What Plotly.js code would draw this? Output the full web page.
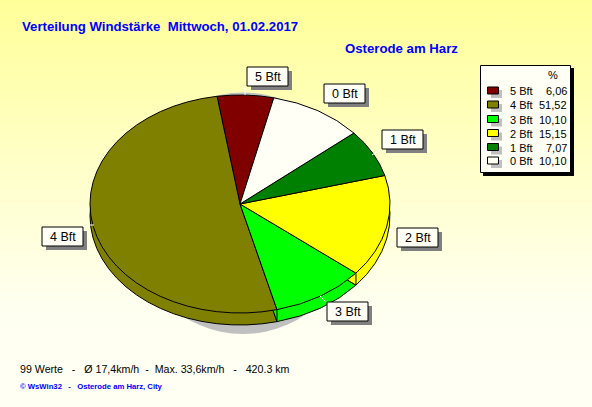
<!DOCTYPE html>
<html>
<head>
<meta charset="utf-8">
<script src="https://cdn.plot.ly/plotly-3.0.1.min.js"></script>
<style>
html,body{margin:0;padding:0;width:592px;height:407px;overflow:hidden;
background:linear-gradient(to bottom,#FFFF99 0%,#FFFFC8 40%,#FFFFF0 75%,#FFFFF5 100%);}
</style>
</head>
<body>
<div id="chart" style="width:592px;height:407px"></div>
<script>
var categories = ['5 Bft','4 Bft','3 Bft','2 Bft','1 Bft','0 Bft'];
var percentValues = [6.06,51.52,10.10,15.15,7.07,10.10];
var sliceColors = ['#800000','#808000','#00FF00','#FFFF00','#008000','#FFFFF5'];
var calloutOrigins = [[247,67],[42,227],[327,302],[397,228],[382,130],[324,84]];
var calloutLeaders = [[[245,86],[245,95]],[[89,225],[94,225]],[[320,296],[326,302]],null,[[382,149],[372,155]],null];

var W=592,H=407,cx=240,cy=204,rx=150,ry=109,depth=12,k=ry/rx,firstSliceStart=-8.8;
function pieTrace(centerY,name){
  return {type:'pie',name:name,labels:categories,values:percentValues,sort:false,direction:'counterclockwise',
    rotation:firstSliceStart,textinfo:'none',hoverinfo:'label+percent',showlegend:false,
    marker:{colors:sliceColors,line:{color:'#000',width:1}},
    domain:{x:[(cx-rx)/W,(cx+rx)/W],y:[1-(centerY+rx)/H,1-(centerY-rx)/H]}};
}
var data=[pieTrace(cy+depth/k,'side'),pieTrace(cy,'top')];

var shapes=[],ann=[];
var bg='#FFFFF5';
function rect(x0,y0,x1,y1,fill,line,layer){
  shapes.push({type:'rect',xref:'x',yref:'y',x0:x0,y0:y0,x1:x1,y1:y1,fillcolor:fill,layer:layer||'above',
    line:line?{color:line,width:1}:{width:0}});
}
function text(x,y,t,size,color,anchor,bold,family){
  ann.push({xref:'x',yref:'y',x:x,y:y,text:bold?'<b>'+t+'</b>':t,showarrow:false,xanchor:anchor||'left',yanchor:'middle',
    font:{family:family||'"Liberation Sans",Arial,sans-serif',size:size,color:color||'#000'},borderpad:0,borderwidth:0});
}
// pie shadow
shapes.push({type:'circle',xref:'x',yref:'y',layer:'below',x0:128,x1:358,y0:92.5,y1:334,fillcolor:'#C0C0C0',line:{width:0}});

// vertical edges on the visible side of the pie
var cum=0;
percentValues.forEach(function(v,i){
  cum+=v;
  var a=(firstSliceStart+percentValues[0]*3.6-cum*3.6)*Math.PI/180, x=cx+rx*Math.sin(a), y=cy-ry*Math.cos(a);
  if(Math.cos(a)<0){ shapes.push({type:'line',xref:'x',yref:'y',x0:x,x1:x,y0:y,y1:y+depth,line:{color:'#000',width:1}}); }
});

// callouts
categories.forEach(function(c,i){
  var o=calloutOrigins[i], l=calloutLeaders[i];
  if(l) shapes.push({type:'line',xref:'x',yref:'y',x0:l[0][0],y0:l[0][1],x1:l[1][0],y1:l[1][1],line:{color:'#fff',width:1}});
  rect(o[0]+4,o[1]+4,o[0]+45,o[1]+23,'#808080');
  rect(o[0],o[1],o[0]+41,o[1]+19,bg,'#000');
  text(o[0]+21,o[1]+10,c,12.5,'#000','center');
});

// legend box
rect(483,68,574,176,'#000');
rect(480.5,65.5,570.5,172.5,bg,'#000');
text(553,75,'%',11,'#000','center');
var rowY=[91,105,119.5,133.5,147.5,161];
categories.forEach(function(c,i){
  var y=rowY[i];
  rect(491,y-1,502,y+7,'#C0C0C0');
  rect(487.5,y-4,498.5,y+3,sliceColors[i],'#000');
  text(510,y,c,11);
  text(566.5,y,percentValues[i].toFixed(2).replace('.',','),11,'#000','right');
});

// titles and footer
text(22,26,'Verteilung Windstärke&nbsp;&nbsp;Mittwoch, 01.02.2017',13.2,'#0000FF','left',true);
text(345,48,'Osterode am Harz',13.2,'#0000FF','left',true);
text(20,369,'99 Werte&nbsp;&nbsp; - &nbsp;&nbsp;Ø 17,4km/h&nbsp; - &nbsp;Max. 33,6km/h&nbsp;&nbsp; - &nbsp;&nbsp;420.3 km',10.65,'#000','left');
text(20,386,'© WsWin32&nbsp;&nbsp; - &nbsp;&nbsp;Osterode am Harz, City',7.7,'#0000FF','left',true);

var layout={width:W,height:H,margin:{l:0,r:0,t:0,b:0},paper_bgcolor:'rgba(0,0,0,0)',plot_bgcolor:'rgba(0,0,0,0)',showlegend:false,
  xaxis:{range:[0,W],visible:false,fixedrange:true},yaxis:{range:[H,0],visible:false,fixedrange:true},shapes:shapes,annotations:ann};

function squash(){
  // The reference pie is drawn in perspective: flatten the library's circular pies.
  document.querySelectorAll('.pielayer .trace').forEach(function(g,i){
    var c=i===0?cy+depth/k:cy;
    var dy=i===0?depth:0;
    g.setAttribute('transform','translate(0,'+(cy+dy)+') scale(1,'+k+') translate(0,'+(-c)+')');
  });
  document.querySelectorAll('.pielayer path').forEach(function(p){p.style.vectorEffect='non-scaling-stroke';});
}
Plotly.newPlot('chart',data,layout,{displayModeBar:false,staticPlot:true}).then(squash);
</script>
</body>
</html>
